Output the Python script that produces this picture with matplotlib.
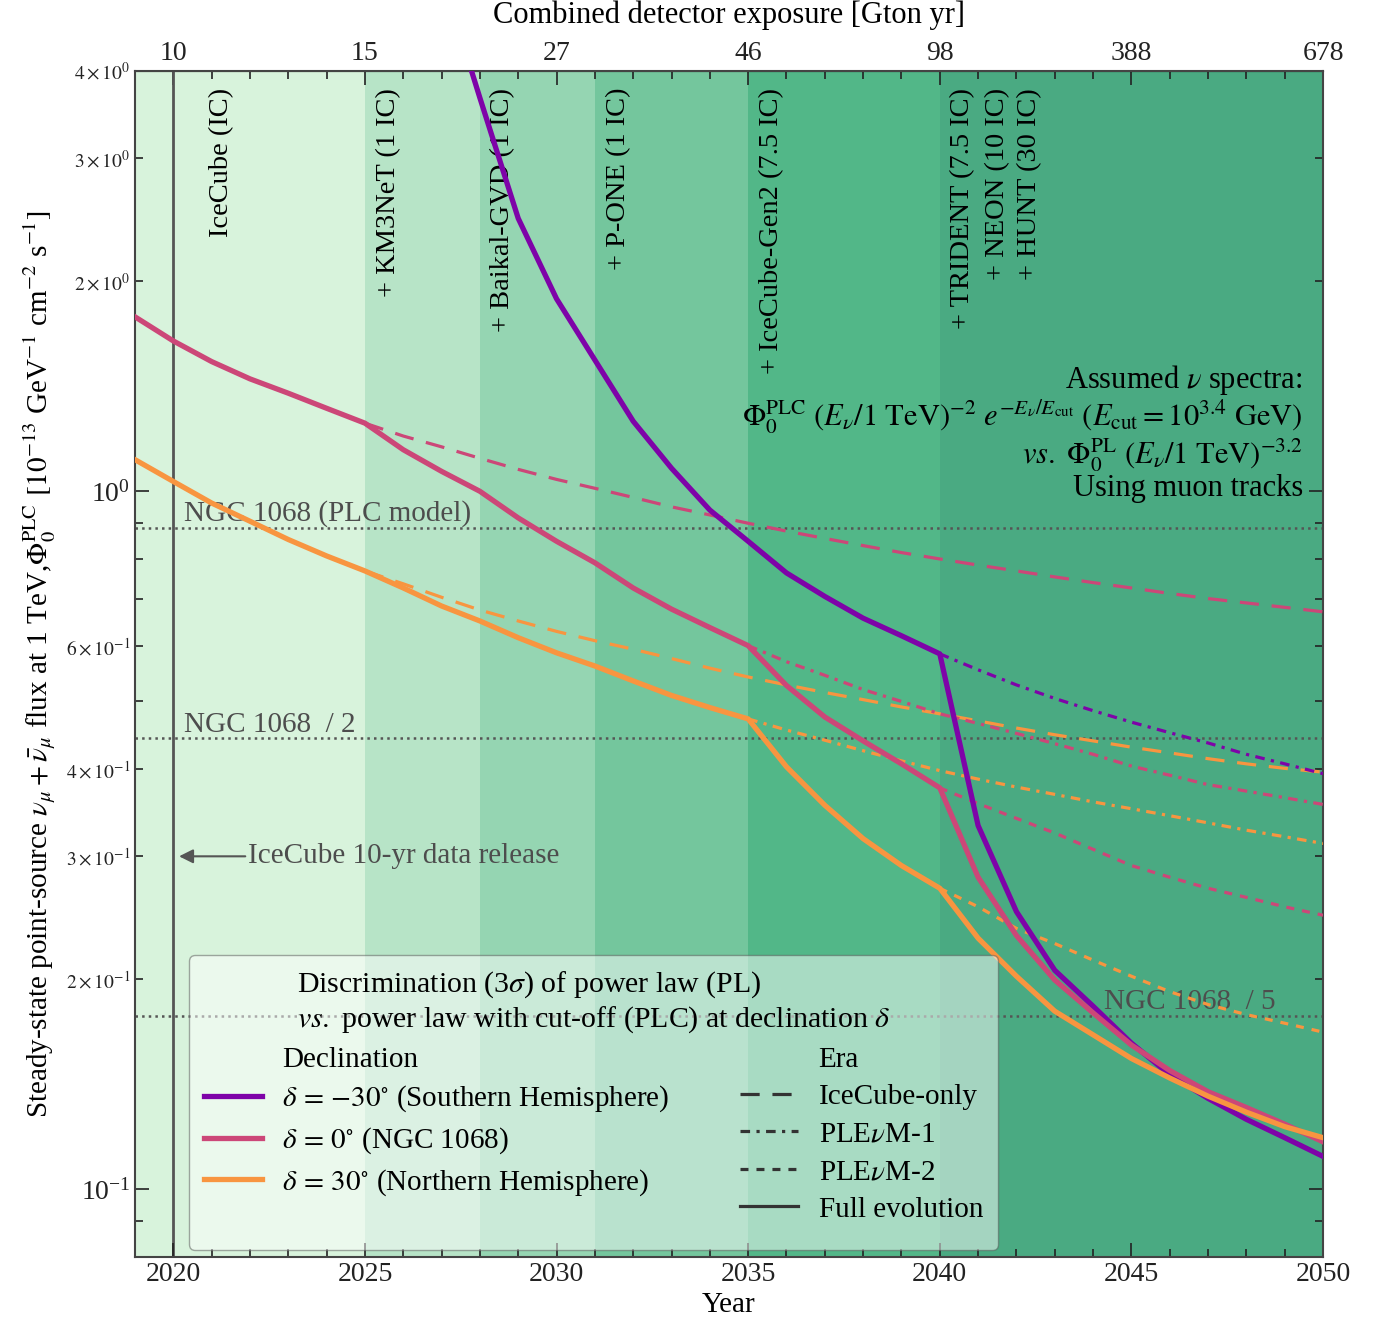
import numpy as np
import matplotlib
matplotlib.use("Agg")
import matplotlib.pyplot as plt
from matplotlib.lines import Line2D
from matplotlib.ticker import FixedLocator, FuncFormatter, LogLocator

plt.rcParams['font.family'] = ['Liberation Serif', 'DejaVu Serif']
plt.rcParams['mathtext.fontset'] = 'stix'

# ---- data ----
era_edges = [2019, 2025, 2028, 2031, 2035, 2040, 2050]
era_colors = ["#d8f3dc", "#b7e4c7", "#95d5b2", "#74c69d", "#52b788", "#4aaa82"]

exposure_years = [2020, 2025, 2030, 2035, 2040, 2045, 2050]
exposure_labels = ["10", "15", "27", "46", "98", "388", "678"]

detector_labels = ["IceCube (IC)", "+ KM3NeT (1 IC)", "+ Baikal-GVD (1 IC)",
                   "+ P-ONE (1 IC)", "+ IceCube-Gen2 (7.5 IC)",
                   "+ TRIDENT (7.5 IC)", "+ NEON (10 IC)", "+ HUNT (30 IC)"]
detector_x = [2021.27, 2025.63, 2028.6, 2031.63, 2035.6, 2040.6, 2041.5, 2042.35]

ngc_flux = 0.885

# full evolution
years_s = np.arange(2027, 2051)
south_full = [5.5, 3.66, 2.46, 1.887, 1.542, 1.26, 1.079, 0.940, 0.848, 0.764,
              0.707, 0.658, 0.621, 0.585, 0.332, 0.250, 0.206, 0.183, 0.162,
              0.146, 0.135, 0.126, 0.1186, 0.1115]
years_all = np.arange(2019, 2051)
eq_full = [1.778, 1.642, 1.534, 1.449, 1.382, 1.315, 1.252, 1.147, 1.068, 1.0,
           0.916, 0.848, 0.790, 0.727, 0.678, 0.638, 0.601, 0.527, 0.475, 0.439,
           0.407, 0.376, 0.280, 0.231, 0.1995, 0.179, 0.161, 0.148, 0.138,
           0.131, 0.124, 0.117]
north_full = [1.11, 1.033, 0.962, 0.906, 0.853, 0.808, 0.769, 0.727, 0.685,
              0.652, 0.617, 0.587, 0.562, 0.535, 0.510, 0.490, 0.472, 0.403,
              0.355, 0.318, 0.291, 0.270, 0.229, 0.202, 0.180, 0.1665, 0.154,
              0.1444, 0.136, 0.129, 0.123, 0.1186]

# IceCube-only (from 2025)
years_ic = np.arange(2025, 2051)
eq_ic = [1.252, 1.20, 1.158, 1.115, 1.075, 1.04, 1.01, 0.98, 0.95, 0.925, 0.90,
         0.877, 0.856, 0.836, 0.817, 0.80, 0.784, 0.769, 0.754, 0.74, 0.727,
         0.714, 0.702, 0.692, 0.682, 0.672]
north_ic = [0.769, 0.737, 0.705, 0.676, 0.652, 0.630, 0.611, 0.594, 0.576,
            0.558, 0.542, 0.528, 0.515, 0.503, 0.491, 0.480, 0.469, 0.458,
            0.448, 0.439, 0.430, 0.422, 0.414, 0.407, 0.401, 0.396]

# PLEnuM-1 (from 2035)
years_p1 = np.arange(2035, 2051)
eq_p1 = [0.601, 0.57, 0.545, 0.52, 0.50, 0.48, 0.465, 0.45, 0.435, 0.42, 0.404,
         0.392, 0.38, 0.372, 0.364, 0.356]
north_p1 = [0.472, 0.455, 0.44, 0.425, 0.411, 0.398, 0.387, 0.377, 0.368,
            0.359, 0.351, 0.343, 0.335, 0.327, 0.320, 0.313]
# purple PLEnuM-1 only starts after 2040
years_p1s = np.arange(2040, 2051)
south_p1 = [0.585, 0.555, 0.528, 0.505, 0.485, 0.467, 0.451, 0.436, 0.42,
            0.407, 0.394]

# PLEnuM-2 (from 2040)
years_p2 = np.arange(2040, 2051)
eq_p2 = [0.376, 0.357, 0.34, 0.324, 0.307, 0.291, 0.28, 0.27, 0.262, 0.254, 0.247]
north_p2 = [0.270, 0.254, 0.2365, 0.225, 0.213, 0.202, 0.192, 0.184, 0.178,
            0.173, 0.168]

c_south = "#7e03a8"
c_eq = "#cc4778"
c_north = "#f89540"
gray = "#555555"

ls_ic = (0, (6, 4))
ls_p1 = (0, (3, 2, 1, 2))
ls_p2 = (0, (2.5, 2.5))

fs = 21

fig = plt.figure(figsize=(13.79, 13.2), dpi=100)
ax = fig.add_axes([0.0979, 0.0477, 0.8615, 0.8985])

for x0, x1, c in zip(era_edges[:-1], era_edges[1:], era_colors):
    ax.axvspan(x0, x1, color=c, lw=0, zorder=0)

ax.axvline(2020, color=gray, lw=2, zorder=1)

for lvl, lab, xt in [(ngc_flux, "NGC 1068 (PLC model)", 2020.28),
                     (ngc_flux / 2, "NGC 1068  / 2", 2020.28),
                     (ngc_flux / 5, "NGC 1068  / 5", 2044.28)]:
    ax.axhline(lvl, color=gray, ls=':', lw=1.8, zorder=1)
    ax.text(xt, lvl * 1.003, lab, color="#4d4d4d", fontsize=fs,
            va='bottom', ha='left', zorder=2)

# thin lines
lw_t = 2.3
ax.plot(years_ic, eq_ic, color=c_eq, ls=ls_ic, lw=lw_t, zorder=3)
ax.plot(years_ic, north_ic, color=c_north, ls=ls_ic, lw=lw_t, zorder=3)
ax.plot(years_p1s, south_p1, color=c_south, ls=ls_p1, lw=lw_t, zorder=3)
ax.plot(years_p1, eq_p1, color=c_eq, ls=ls_p1, lw=lw_t, zorder=3)
ax.plot(years_p1, north_p1, color=c_north, ls=ls_p1, lw=lw_t, zorder=3)
ax.plot(years_p2, eq_p2, color=c_eq, ls=ls_p2, lw=lw_t, zorder=3)
ax.plot(years_p2, north_p2, color=c_north, ls=ls_p2, lw=lw_t, zorder=3)

# full evolution
lw_f = 3.8
ax.plot(years_s, south_full, color=c_south, lw=lw_f, zorder=4)
ax.plot(years_all, eq_full, color=c_eq, lw=lw_f, zorder=4)
ax.plot(years_all, north_full, color=c_north, lw=lw_f, zorder=4)

ax.set_yscale('log')
ax.set_xlim(2019, 2050)
ax.set_ylim(0.08, 4)

for xd, lab in zip(detector_x, detector_labels):
    ax.text(xd, 0.9857, lab, rotation=90, ha='center', va='top', fontsize=20.5,
            transform=ax.get_xaxis_transform(), zorder=2)

ax.annotate("IceCube 10-yr data release", xy=(2020.15, 0.3), xytext=(2021.95, 0.3),
            va='center', ha='left', fontsize=fs, color="#4d4d4d",
            arrowprops=dict(arrowstyle='-|>', color=gray, lw=1.5, shrinkA=0, shrinkB=0))

spec_lines = [r"Assumed $\nu$ spectra:",
              r"$\Phi_0^{\mathrm{PLC}}\ (E_\nu/1\ \mathrm{TeV})^{-2}\ e^{-E_\nu/E_{\mathrm{cut}}}\ (E_{\mathrm{cut}} = 10^{3.4}\ \mathrm{GeV})$",
              r"$vs.\ \Phi_0^{\mathrm{PL}}\ (E_\nu/1\ \mathrm{TeV})^{-3.2}$",
              "Using muon tracks"]
for yy, s in zip([0.7395, 0.7083, 0.6762, 0.6476], spec_lines):
    ax.text(0.983, yy, s, transform=ax.transAxes, ha='right', va='center',
            fontsize=22, zorder=5)

# ticks
ax.xaxis.set_major_locator(FixedLocator(exposure_years))
ax.xaxis.set_minor_locator(FixedLocator(np.arange(2019, 2051)))
ax.set_xticklabels([str(y) for y in exposure_years])
ax.yaxis.set_major_locator(LogLocator(base=10))
ax.yaxis.set_minor_locator(LogLocator(base=10, subs=np.arange(2, 10)))


def minor_fmt(v, pos):
    e = int(np.floor(np.log10(v) + 1e-9))
    m = int(round(v / 10 ** e))
    if m in (2, 3, 4, 6):
        return r"$%d\times10^{%d}$" % (m, e)
    return ""


ax.yaxis.set_minor_formatter(FuncFormatter(minor_fmt))
ax.tick_params(which='both', direction='in', top=False, right=True, width=1.2,
               colors='#222222')
ax.tick_params(which='major', length=10, labelsize=20)
ax.tick_params(which='minor', length=6)
ax.tick_params(axis='y', which='minor', labelsize=14)
for sp in ax.spines.values():
    sp.set_color('#444444')
    sp.set_linewidth(1.5)

top = ax.secondary_xaxis('top')
top.xaxis.set_major_locator(FixedLocator(exposure_years))
top.xaxis.set_minor_locator(FixedLocator(np.arange(2019, 2051)))
top.set_xticklabels(exposure_labels)
top.tick_params(which='both', direction='in', width=1.2, colors='#222222')
top.tick_params(which='major', length=10, labelsize=20)
top.tick_params(which='minor', length=6)
top.set_xlabel("Combined detector exposure [Gton yr]", fontsize=22, labelpad=13)

ax.set_xlabel("Year", fontsize=21, labelpad=4)
ax.set_ylabel(r"Steady-state point-source $\nu_\mu + \bar{\nu}_\mu$ flux at 1 TeV,"
              r"$\Phi_0^{\mathrm{PLC}}$ $[10^{-13}$ GeV$^{-1}$ cm$^{-2}$ s$^{-1}]$",
              fontsize=21, labelpad=6)

# legend
blank = Line2D([], [], color='none')
dark = "#333333"
handles = [blank,
           Line2D([], [], color=c_south, lw=lw_f),
           Line2D([], [], color=c_eq, lw=lw_f),
           Line2D([], [], color=c_north, lw=lw_f),
           blank,
           blank,
           Line2D([], [], color=dark, ls=ls_ic, lw=lw_t),
           Line2D([], [], color=dark, ls=ls_p1, lw=lw_t),
           Line2D([], [], color=dark, ls=ls_p2, lw=lw_t),
           Line2D([], [], color=dark, lw=lw_t)]
labels = ["Declination",
          r"$\delta\, =\, {-}30^{\circ}$ (Southern Hemisphere)",
          r"$\delta\, =\, 0^{\circ}$ (NGC 1068)",
          r"$\delta\, =\, 30^{\circ}$ (Northern Hemisphere)",
          "",
          "Era", "IceCube-only", r"PLE$\nu$M-1", r"PLE$\nu$M-2", "Full evolution"]
leg = ax.legend(handles, labels, ncol=2, loc='lower left',
                bbox_to_anchor=(0.0455, 0.006), borderaxespad=0,
                title="Discrimination (3$\\sigma$) of power law (PL)\n"
                      "$vs.$ power law with cut-off (PLC) at declination $\\delta$",
                fontsize=fs, title_fontsize=21.5, handlelength=2.0,
                handletextpad=0.7, columnspacing=2.4, labelspacing=0.38,
                borderpad=0.5, framealpha=0.5, facecolor='white',
                edgecolor=gray, fancybox=True)
leg.get_title().set_multialignment('left')
leg.set_zorder(6)

fig.savefig("out.png", dpi=100)
